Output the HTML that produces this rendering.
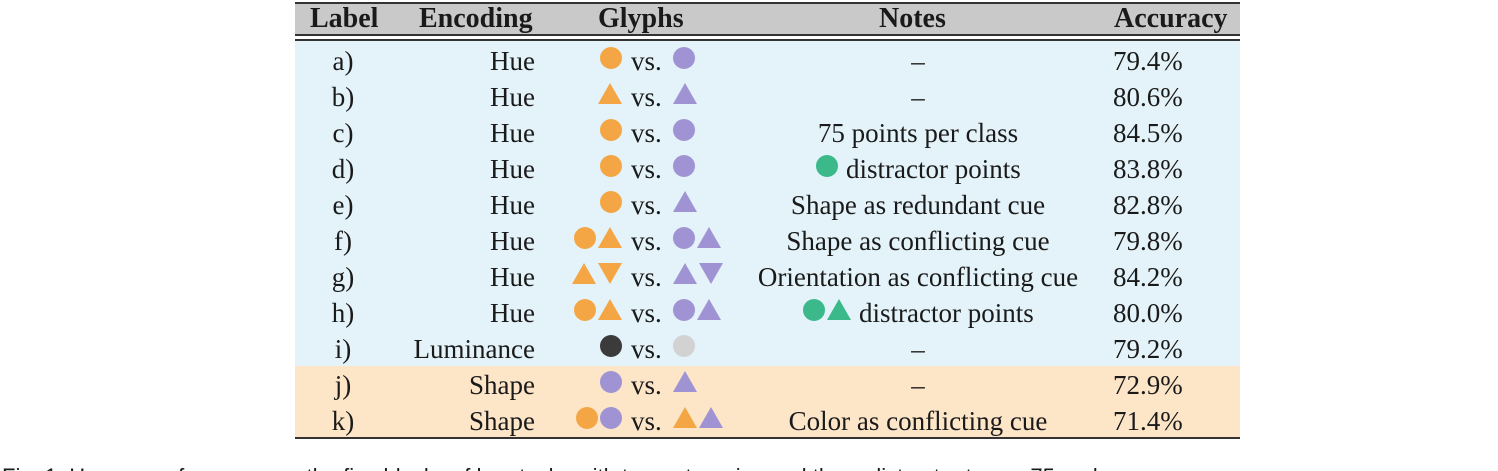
<!DOCTYPE html>
<html><head><meta charset="utf-8"><style>
html,body{margin:0;padding:0;width:1498px;height:471px;overflow:hidden;background:#fff;}
body{position:relative;font-family:"Liberation Serif",serif;font-size:27px;color:#1a1a1a;}
.abs{position:absolute;}
.row{position:absolute;left:295px;width:945px;height:36px;}
.cell{position:absolute;top:0;height:36px;line-height:36px;white-space:nowrap;}
.g{display:inline-block;vertical-align:middle;margin:0 1px;}
.c{width:22px;height:22px;border-radius:50%;position:relative;top:-6px;}
.t{width:0;height:0;border-left:12px solid transparent;border-right:12px solid transparent;border-bottom:21px solid;position:relative;top:-6px;}
.d{width:0;height:0;border-left:12px solid transparent;border-right:12px solid transparent;border-top:21px solid;position:relative;top:-6px;}
.O{background:#f4a645;}.P{background:#a093d3;}.G{background:#3bb98b;}.K{background:#3b3b3b;}.L{background:#d2d2d2;}
.tO{border-bottom-color:#f4a645;}.tP{border-bottom-color:#a093d3;}.tG{border-bottom-color:#3bb98b;}
.dO{border-top-color:#f4a645;}.dP{border-top-color:#a093d3;}
.h{height:30px;line-height:29px;font-size:28px;}
</style></head><body>
<div class="abs" style="left:295px;top:2px;width:945px;height:2px;background:#333"></div>
<div class="abs" style="left:295px;top:4px;width:945px;height:30px;background:#c9c9c9;font-weight:bold;">
 <div class="cell h" style="left:15px">Label</div>
 <div class="cell h" style="left:124px">Encoding</div>
 <div class="cell h" style="left:303px">Glyphs</div>
 <div class="cell h" style="left:584px">Notes</div>
 <div class="cell h" style="left:819px">Accuracy</div>
</div>
<div class="abs" style="left:295px;top:34px;width:945px;height:2px;background:#333"></div>
<div class="abs" style="left:295px;top:39px;width:945px;height:2px;background:#333"></div>
<div class="abs" style="left:295px;top:41px;width:945px;height:325px;background:#e3f3f9"></div>
<div class="abs" style="left:295px;top:366px;width:945px;height:71px;background:#fde5c8"></div>
<div class="abs" style="left:295px;top:437px;width:945px;height:2px;background:#333"></div>
<div id="rows"></div>
<div class="abs" style="left:2px;top:464px;font-family:'Liberation Sans',sans-serif;font-size:22px;white-space:nowrap;">Fig. 1: Human performance on the five blocks of hue tasks with two categories and three distractor types. 75 and</div>
<script>
const labels=["a)","b)","c)","d)","e)","f)","g)","h)","i)","j)","k)"];
const encodings=["Hue","Hue","Hue","Hue","Hue","Hue","Hue","Hue","Luminance","Shape","Shape"];
const leftGlyphs=[["cO"],["tO"],["cO"],["cO"],["cO"],["cO","tO"],["tO","dO"],["cO","tO"],["cK"],["cP"],["cO","cP"]];
const rightGlyphs=[["cP"],["tP"],["cP"],["cP"],["tP"],["cP","tP"],["tP","dP"],["cP","tP"],["cL"],["tP"],["tO","tP"]];
const notes=["–","–","75 points per class","distractor points","Shape as redundant cue","Shape as conflicting cue","Orientation as conflicting cue","distractor points","–","–","Color as conflicting cue"];
const noteGlyphs=[[],[],[],["cG"],[],[],[],["cG","tG"],[],[],[]];
const accuracy=["79.4%","80.6%","84.5%","83.8%","82.8%","79.8%","84.2%","80.0%","79.2%","72.9%","71.4%"];
function glyphHTML(list){return list.map(s=>{const k=s[0],c=s[1];
 if(k==='c')return '<span class="g c '+c+'"></span>';
 if(k==='t')return '<span class="g t t'+c+'"></span>';
 return '<span class="g d d'+c+'"></span>';}).join('');}
const root=document.getElementById('rows');
labels.forEach((lab,i)=>{
 const r=document.createElement('div');r.className='row';r.style.top=(43+i*36)+'px';
 
 
 r.innerHTML='<div class="cell" style="left:0;width:96px;text-align:center">'+lab+'</div>'+
 '<div class="cell" style="left:100px;width:140px;text-align:right">'+encodings[i]+'</div>'+
 '<div class="cell" style="left:230px;width:98px;text-align:right">'+glyphHTML(leftGlyphs[i])+'</div>'+
 '<div class="cell" style="left:336px">vs.</div>'+
 '<div class="cell" style="left:377px">'+glyphHTML(rightGlyphs[i])+'</div>'+
 '<div class="cell" style="left:443px;width:360px;text-align:center">'+glyphHTML(noteGlyphs[i])+(noteGlyphs[i].length?' ':'')+notes[i]+'</div>'+
 '<div class="cell" style="left:818px">'+accuracy[i]+'</div>';
 root.appendChild(r);
});
</script>
</body></html>
